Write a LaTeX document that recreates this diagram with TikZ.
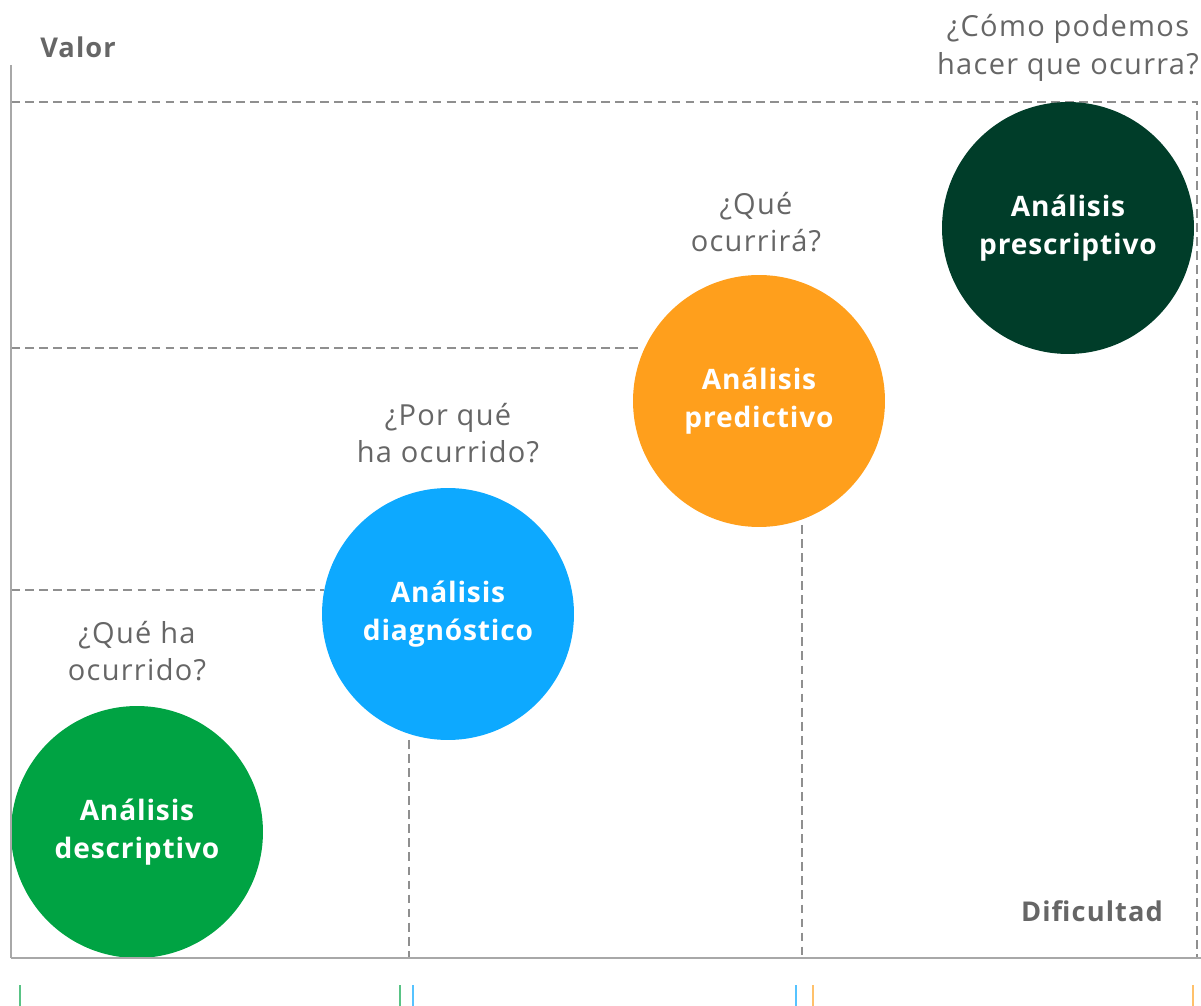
\documentclass[tikz,border=0pt]{standalone}
\usepackage{fontspec}
\setmainfont{Open Sans}
\newfontfamily\questionfont{Open Sans}[LetterSpace=4.5]
\newfontfamily\bubblefont{Open Sans}[LetterSpace=3]
\newfontfamily\axisfont{Open Sans}[LetterSpace=4]
\usepackage{tikz}
\usetikzlibrary{positioning}

\definecolor{descgreen}{HTML}{00A343}
\definecolor{diagblue}{HTML}{0DA9FF}
\definecolor{predorange}{HTML}{FF9F1C}
\definecolor{prescgreen}{HTML}{003D29}
\definecolor{axisgray}{HTML}{A8A8A8}
\definecolor{textgray}{HTML}{666666}

\tikzset{
  bubble/.style={circle, minimum size=5.04cm, inner sep=0pt, text=white,
    font=\bubblefont\fontsize{16}{21.5}\selectfont\bfseries, align=center},
  question/.style={text=textgray, font=\questionfont\fontsize{16.5}{21.5}\selectfont, align=center},
  axislabel/.style={text=textgray, font=\axisfont\fontsize{15.5}{17}\selectfont\bfseries},
  guide/.style={draw=axisgray!85!black, line width=1.1pt, dash pattern=on 5pt off 3pt},
  tick/.style={line width=1.1pt}
}

\begin{document}
\begin{tikzpicture}[x=0.02cm,y=-0.02cm]

\useasboundingbox (0,0) rectangle (1201,1006);

\draw [guide] (11,102) -- (1197,102) -- (1197,958);
\draw [guide] (11,348) -- (640,348);
\draw [guide] (11,590) -- (324,590);
\draw [guide] (409,740) -- (409,958);
\draw [guide] (802,525) -- (802,958);

\node[bubble, fill=descgreen] (desc) at (137,832) {Análisis\\descriptivo};
\node[bubble, fill=diagblue] (diag) at (448,614) {Análisis\\diagnóstico};
\node[bubble, fill=predorange] (pred) at (759,401) {Análisis\\predictivo};
\node[bubble, fill=prescgreen] (presc) at (1068,228) {Análisis\\prescriptivo};

\node[question] (qdesc) at (137,651) {¿Qué ha\\ocurrido?};
\node[question] (qdiag) at (448,433) {¿Por qué\\ha ocurrido?};
\node[question] (qpred) at (756,222) {¿Qué\\ocurrirá?};
\node[question] (qpresc) at (1068,48) {¿Cómo podemos\\hacer que ocurra?};

\draw [axisgray, line width=1.2pt] (11,65) -- (11,958);
\draw [axisgray, line width=1.7pt] (11,958) -- (1201,958);

\node[axislabel] (valor) at (78,47) {Valor};
\node[axislabel] (dificultad) at (1092,911) {Dificultad};

\draw [tick, descgreen!65] (20,985) -- (20,1006);
\draw [tick, descgreen!65] (400,985) -- (400,1006);
\draw [tick, diagblue!70] (413,985) -- (413,1006);
\draw [tick, diagblue!70] (796,985) -- (796,1006);
\draw [tick, predorange!65] (813,985) -- (813,1006);
\draw [tick, predorange!65] (1193,985) -- (1193,1006);

\end{tikzpicture}
\end{document}
